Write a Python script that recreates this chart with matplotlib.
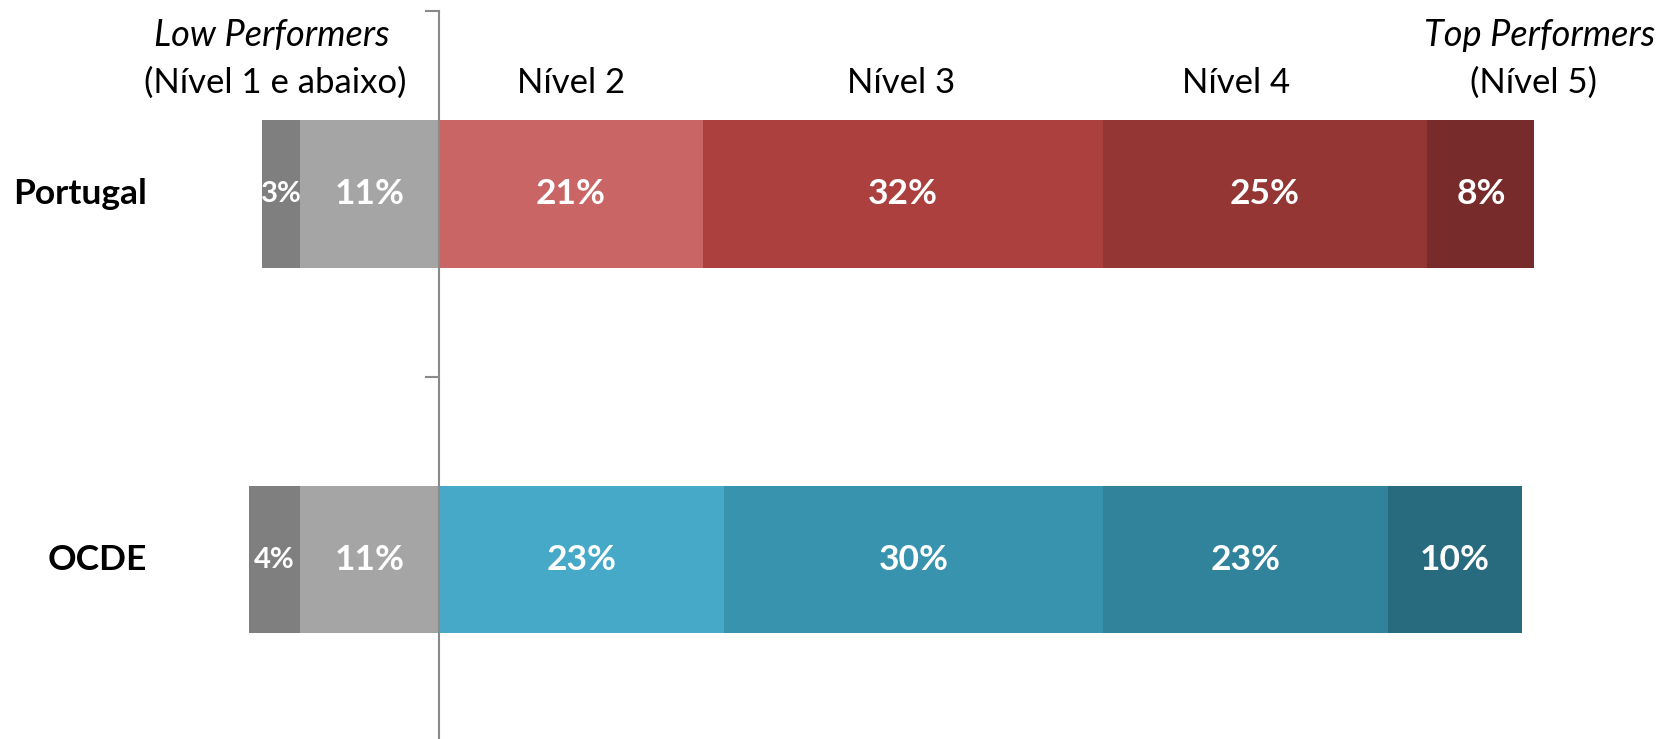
import numpy as np
import matplotlib
matplotlib.use("Agg")
import matplotlib.pyplot as plt

plt.rcParams['font.family'] = ['Lato', 'DejaVu Sans']

# values (%), printed labels as shown
countries = ['Portugal', 'OCDE']
portugal = [3.0, 10.9, 20.7, 31.4, 25.5, 8.4]
ocde = [4.0, 10.9, 22.4, 29.7, 22.4, 10.5]
portugal_labels = ['3%', '11%', '21%', '32%', '25%', '8%']
ocde_labels = ['4%', '11%', '23%', '30%', '23%', '10%']

grays = ['#7f7f7f', '#a5a5a5']
reds = ['#c96665', '#ab403f', '#943634', '#772b2b']
blues = ['#45a9c7', '#3894ae', '#31839b', '#286b7e']

fig = plt.figure(figsize=(16.67, 7.39), dpi=100)
ax = fig.add_axes([0, 0, 1, 1])
ax.set_xlim(-34.47, 96.41)
ax.set_ylim(1.491, -0.5305)
ax.axis('off')

bar_h = 0.404

def draw_row(y, vals, labels, colors):
  # left part: below level 1 furthest out, level 1 next to axis
  lefts = [-(vals[0] + vals[1]), -vals[1]]
  pos = 0
  for v in vals[2:]:
    lefts.append(pos)
    pos += v
  for i, v in enumerate(vals):
    ax.barh(y, v, left=lefts[i], height=bar_h, color=colors[i], edgecolor='none')
    size = 21 if v < 5 else 25.5
    ax.text(lefts[i] + v / 2, y, labels[i], ha='center', va='center',
            color='white', fontsize=size, fontweight='bold')

draw_row(0, portugal, portugal_labels, grays + reds)
draw_row(1, ocde, ocde_labels, grays + blues)

for i, c in enumerate(countries):
  ax.text(-22.95, i, c, ha='right', va='center', fontsize=25.5, fontweight='bold', color='black')

# axis line with category boundary ticks
ax.plot([0, 0], [-0.5, 1.491], color='#8a8a8a', lw=1.5, zorder=5)
for t in [-0.5, 0.5]:
  ax.plot([-1.0, 0], [t, t], color='#8a8a8a', lw=1.5, zorder=5)

# headers
ax.text(-13.15, -0.4346, 'Low Performers', ha='center', va='center', fontsize=26, style='italic')
ax.text(-12.85, -0.3038, '(Nível 1 e abaixo)', ha='center', va='center', fontsize=25)
ax.text(10.4, -0.3038, 'Nível 2', ha='center', va='center', fontsize=25)
ax.text(36.3, -0.3038, 'Nível 3', ha='center', va='center', fontsize=25)
ax.text(62.6, -0.3038, 'Nível 4', ha='center', va='center', fontsize=25)
ax.text(86.4, -0.4346, 'Top Performers', ha='center', va='center', fontsize=26, style='italic')
ax.text(85.9, -0.3038, '(Nível 5)', ha='center', va='center', fontsize=25)

fig.savefig('out.png', dpi=100)
